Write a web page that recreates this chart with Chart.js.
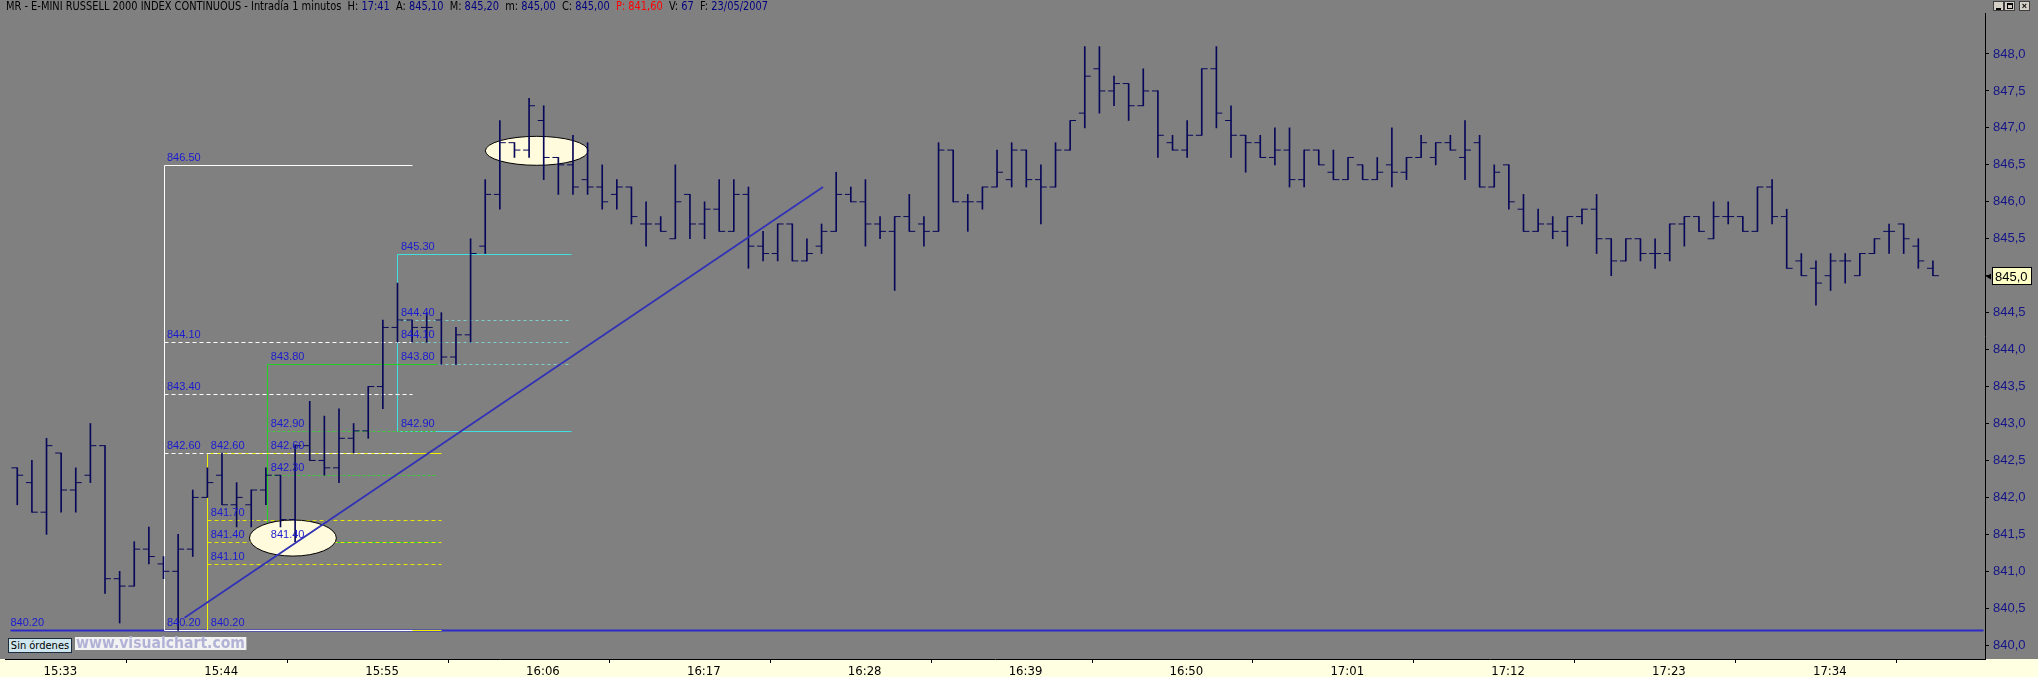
<!DOCTYPE html>
<html><head><meta charset="utf-8">
<script src="https://cdn.jsdelivr.net/npm/chart.js@4.4.0/dist/chart.umd.min.js"></script>
<style>
html,body{margin:0;padding:0;background:#808080;overflow:hidden}
#wrap{position:relative;width:2038px;height:677px;overflow:hidden}
#c{position:absolute;left:0;top:0}
.ov{position:absolute;white-space:nowrap;transform-origin:0 0}
#hdr{left:6px;top:0;height:12px;line-height:12px;font-size:12px;color:#000}
#hdr .v{color:#000080}
#hdr .r{color:#ff0000}
#sin{left:8px;top:638px;width:62px;height:13px;line-height:13px;font-size:11px;background:#cfe6ee;border:1px solid #1c2c3c;color:#000;text-align:center}
#vc{left:75px;top:637px;height:13px;line-height:13px;font-size:15px;font-weight:bold;background:#f2f2f2;color:#b2b2d6;padding:0 1px}
.btn{position:absolute;top:1px;width:11px;height:10px;background:#d4d0c8;border:1px solid #404040;box-sizing:border-box}
</style></head>
<body><div id="wrap">
<canvas id="c" width="2038" height="677"></canvas>
<div id="hdr" class="ov">MR - E-MINI RUSSELL 2000 INDEX CONTINUOUS - Intradía 1 minutos&nbsp; H: <span class="v">17:41</span>&nbsp; A: <span class="v">845,10</span>&nbsp; M: <span class="v">845,20</span>&nbsp; m: <span class="v">845,00</span>&nbsp; C: <span class="v">845,00</span>&nbsp; <span class="r">P: 841,60</span>&nbsp; V: <span class="v">67</span>&nbsp; F: <span class="v">23/05/2007</span></div>
<div id="sin" class="ov">Sin órdenes</div>
<div id="vc" class="ov">www.visualchart.com</div>
<div class="btn" style="left:1993px"><div style="position:absolute;left:2px;top:6px;width:5px;height:2px;background:#000"></div></div>
<div class="btn" style="left:2004px"><div style="position:absolute;left:2px;top:1px;width:6px;height:6px;border:1px solid #000;border-top-width:2px;box-sizing:border-box"></div></div>
<div class="btn" style="left:2019px;font:bold 9px sans-serif;line-height:8px;text-align:center">×</div>
</div>
<script>
// ---- data (one bar per minute, first bar 15:31) ----
const opens  = [842.4,842.2,841.8,842.6,842.1,842.3,842.7,840.9,840.8,841.3,841.1,841.0,841.3,842.0,842.3,841.9,841.9,842.1,842.3,841.7,
842.7,842.5,842.4,842.8,842.9,843.5,844.3,844.4,844.3,844.4,843.9,844.2,845.4,846.1,846.8,846.7,847.1,846.6,846.5,846.3,
846.2,846.1,846.2,845.7,845.7,845.5,846.1,845.7,845.9,845.6,846.1,845.4,845.3,845.7,845.2,845.4,845.6,846.1,846.0,845.7,
845.6,845.8,845.7,845.6,846.7,846.0,846.0,846.2,846.3,846.7,846.3,846.2,846.7,847.2,847.8,847.5,847.6,847.3,847.5,846.8,
846.7,846.9,847.8,847.1,846.9,846.8,846.6,846.7,846.3,846.7,846.4,846.3,846.5,846.3,846.5,846.4,846.6,846.6,846.8,846.6,
846.8,846.2,846.5,845.9,845.6,845.7,845.6,845.8,845.9,845.5,845.2,845.5,845.3,845.3,845.7,845.8,845.5,845.8,845.8,845.6,
846.2,845.8,845.2,845.1,845.0,845.2,845.0,845.3,845.6,845.7,845.4,845.1];
const highs  = [842.4,842.5,842.8,842.6,842.4,843.0,842.7,841.0,841.4,841.6,841.2,841.5,842.1,842.4,842.6,842.2,842.1,842.4,842.3,842.7,
843.3,843.1,843.2,843.0,843.5,844.4,844.9,844.4,844.5,844.5,844.3,845.5,846.3,847.1,846.8,847.4,847.3,846.6,846.9,846.8,
846.5,846.3,846.2,846.0,845.8,846.5,846.1,846.0,846.3,846.3,846.2,845.6,845.7,845.7,845.5,845.7,846.4,846.2,846.3,845.8,
845.8,846.1,845.8,846.8,846.7,846.1,846.2,846.7,846.8,846.7,846.5,846.8,847.1,848.1,848.1,847.7,847.6,847.8,847.5,846.9,
847.1,847.8,848.1,847.3,846.9,846.9,847.0,847.0,846.7,846.7,846.7,846.6,846.5,846.6,847.0,846.6,846.9,846.8,846.9,847.1,
846.9,846.5,846.5,846.1,845.9,845.8,845.8,845.9,846.1,845.5,845.5,845.5,845.5,845.7,845.8,845.8,846.0,846.0,845.8,846.2,
846.3,845.9,845.3,845.2,845.3,845.3,845.3,845.5,845.7,845.7,845.5,845.2];
const lows   = [841.9,841.8,841.5,841.8,841.8,842.2,840.7,840.3,840.8,841.1,840.9,840.2,841.2,842.0,841.9,841.6,841.6,841.9,841.6,841.4,
842.5,842.3,842.2,842.6,842.8,843.2,844.1,844.1,844.1,843.8,843.8,844.1,845.3,845.9,846.6,846.6,846.3,846.1,846.1,846.1,
845.9,845.9,845.7,845.4,845.6,845.5,845.5,845.5,845.6,845.6,845.1,845.2,845.2,845.2,845.2,845.3,845.6,846.0,845.4,845.5,
844.8,845.6,845.4,845.6,846.0,845.6,845.9,846.2,846.2,846.2,845.7,846.2,846.7,847.0,847.2,847.3,847.1,847.3,846.6,846.7,
846.6,846.9,847.0,846.6,846.4,846.6,846.5,846.2,846.2,846.5,846.3,846.3,846.3,846.3,846.2,846.3,846.6,846.5,846.7,846.3,
846.2,846.2,845.9,845.6,845.6,845.5,845.4,845.7,845.3,845.0,845.2,845.2,845.1,845.2,845.4,845.6,845.5,845.7,845.6,845.6,
845.7,845.1,845.0,844.6,844.8,844.9,845.0,845.3,845.3,845.3,845.1,845.0];
const closes = [842.3,841.8,842.7,842.1,842.2,842.7,840.9,840.8,841.3,841.2,841.0,841.3,842.0,842.2,841.9,842.0,842.1,842.3,841.7,842.7,
842.5,842.4,842.8,842.9,843.5,844.3,844.4,844.3,844.3,843.9,844.2,845.3,846.1,846.8,846.7,847.3,846.6,846.5,846.2,846.2,
846.0,846.2,845.8,845.7,845.6,846.0,845.7,845.9,845.6,846.1,845.4,845.3,845.7,845.2,845.3,845.6,846.1,846.0,845.7,845.6,
845.8,845.6,845.6,846.7,846.0,846.0,846.2,846.4,846.7,846.3,846.2,846.7,847.1,847.7,847.5,847.6,847.3,847.5,846.9,846.7,
846.9,847.8,847.2,846.9,846.8,846.6,846.7,846.3,846.7,846.5,846.3,846.6,846.3,846.4,846.4,846.6,846.8,846.8,846.7,846.7,
846.2,846.4,846.0,845.6,845.7,845.6,845.8,845.9,845.5,845.2,845.5,845.3,845.3,845.7,845.8,845.6,845.8,845.8,845.6,846.2,
845.8,845.1,845.0,844.9,845.2,845.2,845.3,845.5,845.6,845.5,845.2,845.0];

const xTickBars   = [2,13,24,35,46,57,68,79,90,101,112,123];
const xTickLabels = ['15:33','15:44','15:55','16:06','16:17','16:28','16:39','16:50','17:01','17:12','17:23','17:34'];
const yTicks = [840.0,840.5,841.0,841.5,842.0,842.5,843.0,843.5,844.0,844.5,845.0,845.5,846.0,846.5,847.0,847.5,848.0];

// drawing-tool annotations (prices, bar index spans)
const fibWhiteLevels  = [846.50,844.10,843.40,842.60,840.20];
const fibWhiteSpan    = [10,27];
const fibYellowLevels = [842.60,841.70,841.40,841.10,840.20];
const fibYellowSpan   = [13,29];
const fibGreenLevels  = [843.80,842.90,842.60,842.30,841.40];
const fibGreenSpan    = [17.1,28.7];
const fibCyanLevels   = [845.30,844.40,844.10,843.80,842.90];
const fibCyanSpan     = [26,37.9];
const supportLevel = 840.20;
const supportSpan  = [-0.5,134.4];
const trendX = [11.44,55.1];
const trendY = [840.37,846.20];
// highlight ellipses: [centre bar, centre price, half width in bars, half height in price]
const highlights = [[18.85,841.45,2.97,0.244],[35.52,846.69,3.51,0.196]];

// ---- fonts ----
function hasFont(f){const c=document.createElement('canvas').getContext('2d');const s='mmmmllll0123456789WWii:,.';
  c.font='40px monospace';const a=c.measureText(s).width;c.font='40px "'+f+'", monospace';const b=c.measureText(s).width;return Math.abs(a-b)>0.5;}
const NARROW = hasFont('Liberation Sans Narrow') ? '"Liberation Sans Narrow"' : (hasFont('DejaVu Sans Condensed') ? '"DejaVu Sans Condensed"' : '"Liberation Sans"');
const SANS = '"Liberation Sans", Arial, sans-serif';
['hdr','sin','vc'].forEach(id=>document.getElementById(id).style.fontFamily=NARROW+', sans-serif');
function fit(id,w){const el=document.getElementById(id);const r=el.getBoundingClientRect().width;el.style.transform='scaleX('+(w/r)+')';}
fit('hdr',762); fit('vc',171);

const BAR = '#08085a';
const fibSets = [
  {levels:fibCyanLevels,  span:fibCyanSpan,  solid:'#3fe0e0', dashColor:'#7fcfcf', dash:[3,3]},
  {levels:fibGreenLevels, span:fibGreenSpan, solid:'#22d022', dashColor:'#3cc83c', dash:[3,2]},
  {levels:fibYellowLevels,span:fibYellowSpan,solid:'#f0f000', dashColor:'#e6e600', dash:[4,3]},
  {levels:fibWhiteLevels, span:fibWhiteSpan, solid:'#ffffff', dashColor:'#ffffff', dash:[4,3]}
];

const overlay = {
  id:'overlay',
  beforeDraw(chart){
    const {ctx,chartArea:a,width,height}=chart;
    ctx.save();
    ctx.fillStyle='#808080';ctx.fillRect(0,0,width,height);
    ctx.fillStyle='#ffffe1';ctx.fillRect(0,a.bottom,width,height-a.bottom);
    ctx.restore();
  },
  beforeDatasetsDraw(chart){
    const ctx=chart.ctx, xs=chart.scales.x, ys=chart.scales.y;
    const X=v=>Math.round(xs.getPixelForValue(v))+0.5, Y=v=>Math.round(ys.getPixelForValue(v))+0.5;
    ctx.save();
    ctx.strokeStyle='#2a2ac8';ctx.lineWidth=2;
    ctx.beginPath();ctx.moveTo(X(supportSpan[0]),Y(supportLevel));ctx.lineTo(X(supportSpan[1]),Y(supportLevel));ctx.stroke();
    ctx.lineWidth=1;
    fibSets.forEach(f=>{
      const p0=X(f.span[0]),p1=X(f.span[1]),n=f.levels.length;
      f.levels.forEach((v,k)=>{
        const solid=(k===0||k===n-1);
        ctx.strokeStyle=solid?f.solid:f.dashColor;ctx.setLineDash(solid?[]:f.dash);
        ctx.beginPath();ctx.moveTo(p0,Y(v));ctx.lineTo(p1,Y(v));ctx.stroke();
      });
      ctx.setLineDash([]);ctx.strokeStyle=f.solid;
      ctx.beginPath();ctx.moveTo(p0,Y(f.levels[0]));ctx.lineTo(p0,Y(f.levels[n-1]));ctx.stroke();
    });
    highlights.forEach(h=>{
      const cx=xs.getPixelForValue(h[0]),cy=ys.getPixelForValue(h[1]);
      const rx=Math.abs(xs.getPixelForValue(h[0]+h[2])-cx),ry=Math.abs(ys.getPixelForValue(h[1]+h[3])-cy);
      ctx.beginPath();ctx.ellipse(cx,cy,rx,ry,0,0,Math.PI*2);
      ctx.fillStyle='#fffbdc';ctx.fill();ctx.strokeStyle='#000';ctx.lineWidth=1;ctx.stroke();
    });
    ctx.restore();
  },
  afterDatasetsDraw(chart){
    const ctx=chart.ctx, xs=chart.scales.x, ys=chart.scales.y;
    ctx.save();
    ctx.font='11px '+SANS;ctx.fillStyle='#1a1ad2';ctx.textBaseline='alphabetic';ctx.textAlign='left';
    fibSets.forEach(f=>f.levels.forEach(v=>ctx.fillText(v.toFixed(2),xs.getPixelForValue(f.span[0])+3.5,ys.getPixelForValue(v)-4)));
    ctx.fillText(supportLevel.toFixed(2),xs.getPixelForValue(supportSpan[0])+0.5,ys.getPixelForValue(supportLevel)-4);
    ctx.restore();
  },
  afterDraw(chart){
    const ctx=chart.ctx, ys=chart.scales.y, a=chart.chartArea;
    const last=closes[closes.length-1], y=Math.round(ys.getPixelForValue(last));
    ctx.save();
    ctx.fillStyle='#ffffc8';ctx.fillRect(a.right+7.5,y-8.5,39,17);
    ctx.strokeStyle='#000';ctx.lineWidth=1;ctx.strokeRect(a.right+7.5,y-8.5,39,17);
    ctx.fillStyle='#000';ctx.beginPath();ctx.moveTo(a.right+1,y+0.5);ctx.lineTo(a.right+6,y-2.5);ctx.lineTo(a.right+6,y+3.5);ctx.closePath();ctx.fill();
    ctx.font='13px '+SANS;ctx.textBaseline='middle';ctx.textAlign='left';
    ctx.fillText(last.toFixed(1).replace('.',','),a.right+10,y+1);
    ctx.restore();
  }
};

const hl = opens.map((o,i)=>({x:i,y:[lows[i],highs[i]]}));
const TICK = 0.2;
const openPts  = opens.map((o,i)=>({x:i-TICK,y:o}));
const closePts = closes.map((c,i)=>({x:i+TICK,y:c}));

new Chart(document.getElementById('c'),{
  type:'bar',
  data:{datasets:[
    {type:'line',label:'trend',data:trendX.map((x,i)=>({x:x,y:trendY[i]})),borderColor:'#3232b6',borderWidth:1.8,pointRadius:0,order:1},
    {type:'scatter',label:'open',data:openPts,pointStyle:'line',pointRadius:3,borderWidth:1,borderColor:BAR,order:2},
    {type:'scatter',label:'close',data:closePts,pointStyle:'line',pointRadius:3,borderWidth:1,borderColor:BAR,order:2},
    {type:'bar',label:'hl',data:hl,backgroundColor:BAR,barThickness:1,borderWidth:0,order:3}
  ]},
  options:{
    responsive:false,animation:false,events:[],devicePixelRatio:1,
    layout:{padding:{top:13,left:0,right:0,bottom:0}},
    plugins:{legend:{display:false},tooltip:{enabled:false}},
    scales:{
      x:{type:'linear',min:-0.839,max:134.56,offset:false,
        afterBuildTicks(s){s.ticks=xTickBars.map(v=>({value:v}));},
        afterFit(s){s.height=18;},
        ticks:{autoSkip:false,maxRotation:0,align:'start',padding:1,labelOffset:-3,color:'#000',
          font:{family:NARROW.replace(/"/g,''),size:13},callback:(v,i)=>xTickLabels[i]},
        grid:{display:true,drawOnChartArea:false,drawTicks:true,tickLength:4,color:'#000'},
        border:{display:true,color:'#000',width:1}},
      y:{type:'linear',position:'right',min:839.8133,max:848.5548,
        afterBuildTicks(s){s.ticks=yTicks.map(v=>({value:v}));},
        afterFit(s){s.width=53;},
        ticks:{autoSkip:false,padding:4,color:'#141488',font:{family:'Liberation Sans',size:13},
          callback:v=>Number(v).toFixed(1).replace('.',',')},
        grid:{display:true,drawOnChartArea:false,drawTicks:true,tickLength:4,color:'#000'},
        border:{display:true,color:'#000',width:1}}
    }
  },
  plugins:[overlay]
});
</script></body></html>
